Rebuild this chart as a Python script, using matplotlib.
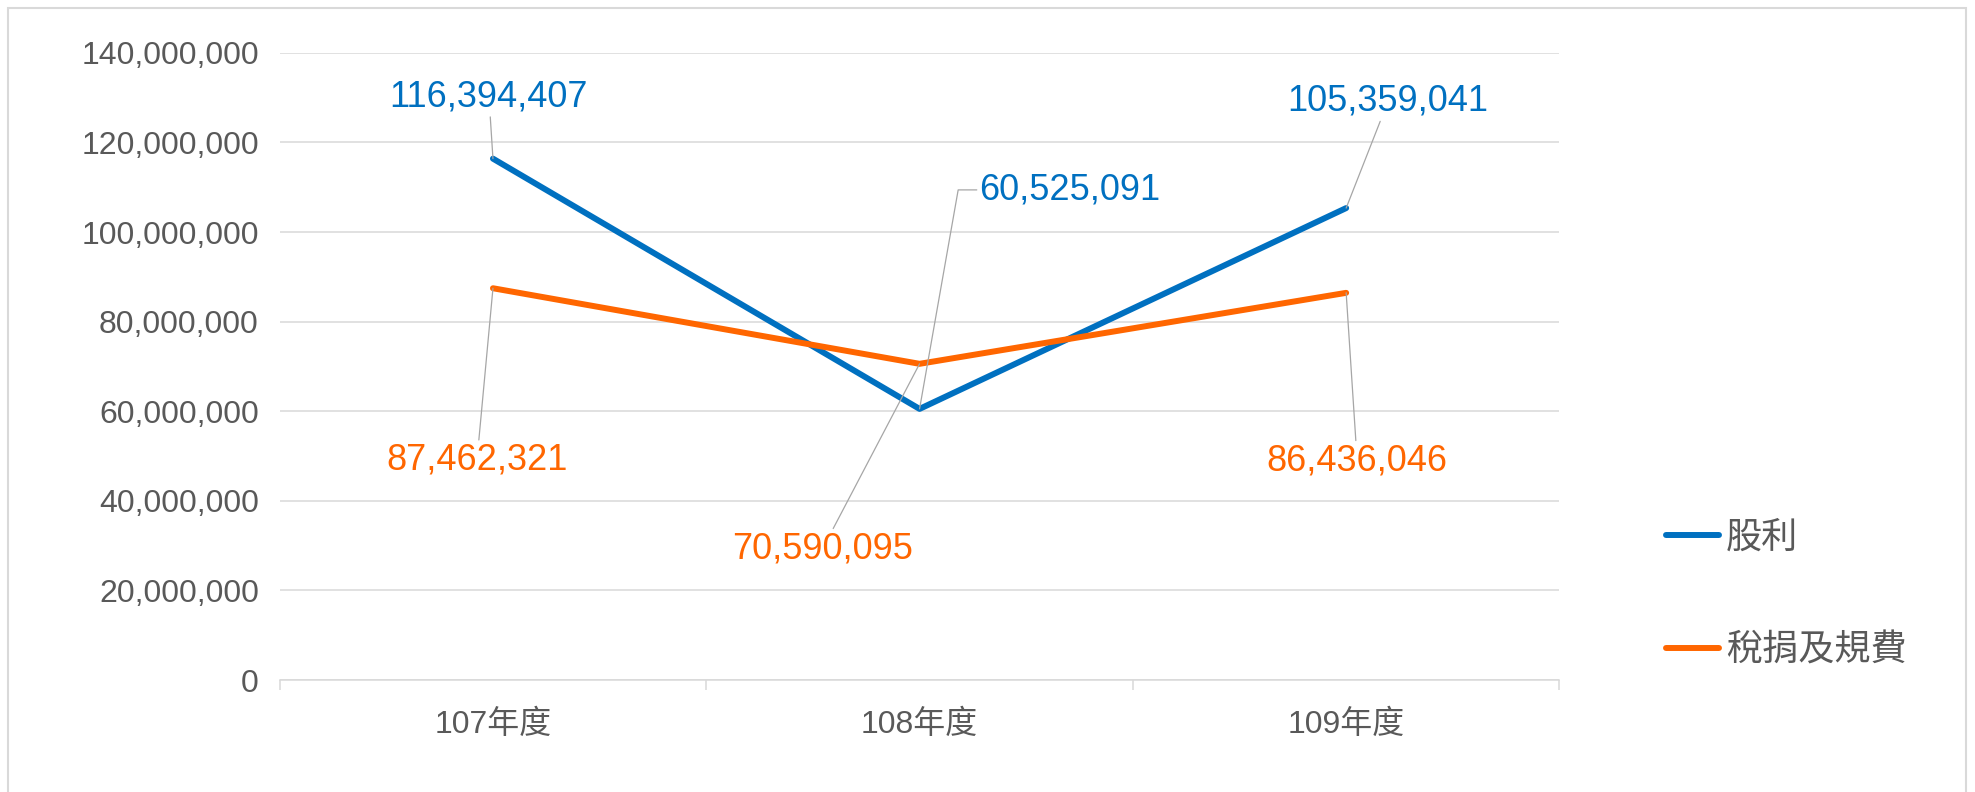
import numpy as np
import matplotlib
matplotlib.use("Agg")
import matplotlib.pyplot as plt
from matplotlib.patches import Rectangle
from matplotlib.ticker import FuncFormatter, FixedLocator

# -----------------------------------------------------------------------
# Data
# -----------------------------------------------------------------------
years = ["107年度", "108年度", "109年度"]
dividend = [116394407, 60525091, 105359041]      # 股利
tax_fees = [87462321, 70590095, 86436046]        # 稅捐及規費
series_names = ["股利", "稅捐及規費"]

# label offsets (pixels) from each point; layout only
div_offsets = [(-4, 62), (60, 219), (42, 107)]
tax_offsets = [(-16, -172), (-97, -185), (11, -168)]

BLUE = "#0070C0"
ORANGE = "#FF6600"
GRID = "#D9D9D9"
TXT = "#595959"
LEADER = "#A6A6A6"

plt.rcParams["font.family"] = ["Liberation Sans", "Noto Sans CJK TC", "DejaVu Sans"]

fig = plt.figure(figsize=(19.75, 7.92), dpi=100)
ax = fig.add_axes([0.1416, 0.1414, 0.7896 - 0.1416, 0.9332 - 0.1414])

x = np.arange(len(years))
ax.plot(x, dividend, color=BLUE, lw=4.3, label=series_names[0], solid_capstyle="round")
ax.plot(x, tax_fees, color=ORANGE, lw=4.3, label=series_names[1], solid_capstyle="round")

ax.set_xlim(-0.5, len(years) - 0.5)
ax.set_ylim(0, 140_000_000)
ax.set_yticks(np.arange(0, 140_000_001, 20_000_000))
ax.yaxis.set_major_formatter(FuncFormatter(lambda v, p: f"{v:,.0f}"))
ax.set_xticks(x)
ax.set_xticklabels(years)
ax.xaxis.set_minor_locator(FixedLocator(np.arange(-0.5, len(years), 1.0)))

ax.grid(axis="y", color=GRID, lw=1.1)
ax.set_axisbelow(True)
for s in ["top", "right", "left"]:
    ax.spines[s].set_visible(False)
ax.spines["bottom"].set_color(GRID)
ax.spines["bottom"].set_linewidth(1.1)

ax.tick_params(axis="y", length=0, pad=15, labelsize=23, labelcolor=TXT)
ax.tick_params(axis="x", which="major", length=0, pad=21, labelsize=23, labelcolor=TXT)
ax.tick_params(axis="x", which="minor", length=7, width=1.1, color=GRID)

# data labels with leader lines
for i, (v, off) in enumerate(zip(dividend, div_offsets)):
    if i == 1:
        ax.annotate(f"{v:,.0f}", xy=(x[i], v), xytext=off, textcoords="offset pixels",
                    ha="left", va="center", fontsize=26, color=BLUE,
                    arrowprops=dict(arrowstyle="-", color=LEADER, lw=0.9,
                                    shrinkA=0, shrinkB=0, relpos=(0, 0.5),
                                    connectionstyle="angle,angleA=0,angleB=80,rad=0"))
    else:
        ax.annotate(f"{v:,.0f}", xy=(x[i], v), xytext=off, textcoords="offset pixels",
                    ha="center", va="center", fontsize=26, color=BLUE,
                    arrowprops=dict(arrowstyle="-", color=LEADER, lw=0.9,
                                    shrinkA=0, shrinkB=0))
for i, (v, off) in enumerate(zip(tax_fees, tax_offsets)):
    ax.annotate(f"{v:,.0f}", xy=(x[i], v), xytext=off, textcoords="offset pixels",
                ha="center", va="center", fontsize=26, color=ORANGE,
                arrowprops=dict(arrowstyle="-", color=LEADER, lw=0.9,
                                shrinkA=0, shrinkB=0))

leg = fig.legend(loc="center left", bbox_to_anchor=(0.8435, 0.249), frameon=False,
                 fontsize=26, handlelength=1.47, handletextpad=0.2, labelspacing=2.15,
                 borderpad=0, borderaxespad=0)
for t in leg.get_texts():
    t.set_color(TXT)

# outer chart border
fig.add_artist(Rectangle((8 / 1975, -0.05), (1966 - 8) / 1975, 1.05 - 8 / 792,
                         transform=fig.transFigure, fill=False, ec=GRID, lw=1.5))

fig.savefig("out.png", dpi=100)
